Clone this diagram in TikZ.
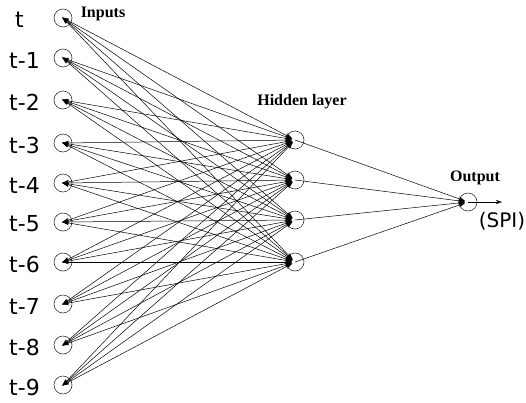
\documentclass[tikz,border=0pt]{standalone}
\usepackage{fontspec}
\setmainfont{Liberation Serif}
\newfontfamily\lblfont{DejaVu Sans}
\usetikzlibrary{arrows.meta}
\begin{document}
\begin{tikzpicture}[x=1pt,y=-1pt,
  neuron/.style={circle,draw=black!80,line width=0.6pt,minimum size=18pt,inner sep=0pt},
  conn/.style={line width=0.5pt,{Stealth[length=7pt,width=4.5pt]}-{Stealth[length=7pt,width=4.5pt]},shorten <=-1pt,shorten >=3pt},
  outconn/.style={line width=0.5pt,-{Stealth[length=7pt,width=4.5pt]},shorten >=3pt},
  lbl/.style={font=\lblfont\fontsize{22}{24}\selectfont,anchor=west,inner sep=0pt},
  ttl/.style={font=\bfseries\fontsize{16}{18}\selectfont,inner sep=0pt}]
\useasboundingbox (0,0) rectangle (526,402);
% inputs
\foreach \k/\y in {0/18,1/58,2/100,3/143,4/183,5/222,6/262,7/304,8/345,9/385}{
  \node[neuron] (i\k) at (63,\y) {};
}
\node[lbl] (l0) at (15,20) {t};
\foreach \k/\y/\t in {1/58/t-1,2/100/t-2,3/143/t-3,4/183/t-4,5/222/t-5,6/262/t-6,7/304/t-7,8/345/t-8,9/385/t-9}{
  \node[lbl] (l\k) at (9,\y+2) {\t};
}
% hidden
\foreach \j/\y in {1/140,2/180,3/220,4/262}{
  \node[neuron] (h\j) at (295,\y) {};
}
\node[neuron] (o) at (468,202) {};
\coordinate (oend) at (502,202);
% titles
\node[ttl] (tin) at (103,14) {Inputs};
\node[ttl] (thid) at (302,102) {Hidden layer};
\node[ttl] (tout) at (475,178) {Output};
\node[font=\lblfont\fontsize{20}{22}\selectfont,inner sep=0pt] (spi) at (502,221) {(SPI)};
% connections
\foreach \k in {0,...,9}{
  \foreach \j in {1,...,4}{
    \draw[conn] (i\k.center) -- (h\j.center);
  }
}
\foreach \j in {1,...,4}{
  \draw[outconn] (h\j.center) -- (o.center);
}
\draw[line width=0.5pt,-{Stealth[length=6pt,width=4pt]}] (o.center) -- (oend);
\end{tikzpicture}
\end{document}
